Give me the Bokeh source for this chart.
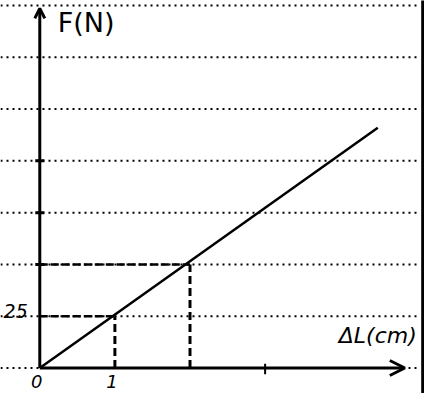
from bokeh.plotting import figure
from bokeh.models import Range1d, Arrow, OpenHead
from bokeh.core.properties import value
from bokeh.embed import file_html
from bokeh.resources import INLINE

# ---- data ----
delta_l = [0, 4.5]          # cm
force = [0, 116]            # N
grid_levels = [0, 25, 50, 75, 100, 125, 150, 175]
guide_x = [1, 2]
guide_y = [25, 50]
x_tick_values = [0, 1]
x_tick_labels = ["0", "1"]
y_tick_values = [25]
y_tick_labels = ["25"]
x_extra_ticks = [3]
y_extra_ticks = [50, 75, 100]
x_title = "ΔL(cm)"
y_title = "F(N)"

# ---- layout ----
W, H = 424, 393
X0, X1 = -0.523, 5.122
Y0, Y1 = -12.3, 177.4
GRID_END = 5.068
X_ARROW_END = 4.86
Y_ARROW_END = 173.6

p = figure(width=W, height=H, x_range=Range1d(X0, X1), y_range=Range1d(Y0, Y1),
           output_backend="svg", toolbar_location=None, min_border=0,
           x_axis_location=None, y_axis_location=None)
p.grid.visible = False
p.outline_line_color = None
p.background_fill_color = "white"
p.border_fill_color = "white"

# dotted ruled lines
n = len(grid_levels)
p.segment(x0=[X0] * n, y0=grid_levels, x1=[GRID_END] * n, y1=grid_levels,
          line_color="black", line_width=2, line_dash="2 4")

# right border bar
p.quad(left=[GRID_END + 0.01], right=[X1 + 0.2], bottom=[Y0 - 10], top=[Y1 + 10],
       fill_color="black", line_color=None)

# dashed guides
p.segment(x0=[0] * len(guide_x), y0=guide_y, x1=guide_x, y1=guide_y,
          line_color="black", line_width=2.5, line_dash="8 3")
p.segment(x0=guide_x, y0=[0] * len(guide_x), x1=guide_x, y1=guide_y,
          line_color="black", line_width=3, line_dash="8 4")

# the force line
p.line(delta_l, force, line_color="black", line_width=2.5)

# axes as arrows
p.add_layout(Arrow(end=OpenHead(size=10, line_width=3, line_color="black"),
                   x_start=0, y_start=0, x_end=0, y_end=Y_ARROW_END,
                   line_width=3, line_color="black"))
p.add_layout(Arrow(end=OpenHead(size=15, line_width=3, line_color="black"),
                   x_start=0, y_start=0, x_end=X_ARROW_END, y_end=0,
                   line_width=3, line_color="black"))

# small tick marks
p.segment(x0=x_extra_ticks, y0=[-3] * len(x_extra_ticks), x1=x_extra_ticks,
          y1=[2] * len(x_extra_ticks), line_color="black", line_width=2)
p.segment(x0=[-0.06] * len(y_extra_ticks), y0=y_extra_ticks,
          x1=[0.06] * len(y_extra_ticks), y1=y_extra_ticks,
          line_color="black", line_width=3)

# tick labels
p.text(x=[v - 0.04 for v in x_tick_values], y=[-6.3] * len(x_tick_values),
       text=x_tick_labels, text_font=value("DejaVu Sans"), text_font_style="italic",
       text_font_size="18px", text_align="center", text_baseline="middle",
       text_color="black")
p.text(x=[-0.16] * len(y_tick_values), y=[v + 2.5 for v in y_tick_values],
       text=y_tick_labels, text_font=value("DejaVu Sans"), text_font_style="italic",
       text_font_size="19px", text_align="right", text_baseline="middle",
       text_color="black")

# axis titles
p.text(x=[0.24], y=[174.5], text=[y_title], text_font=value("DejaVu Sans"),
       text_font_size="27px", text_align="left", text_baseline="top",
       text_color="black")
p.text(x=[4.5], y=[15.5], text=[x_title], text_font=value("DejaVu Sans"),
       text_font_style="italic", text_font_size="22px", text_align="center",
       text_baseline="middle", text_color="black")

open("out.html", "w").write(file_html(p, INLINE))
